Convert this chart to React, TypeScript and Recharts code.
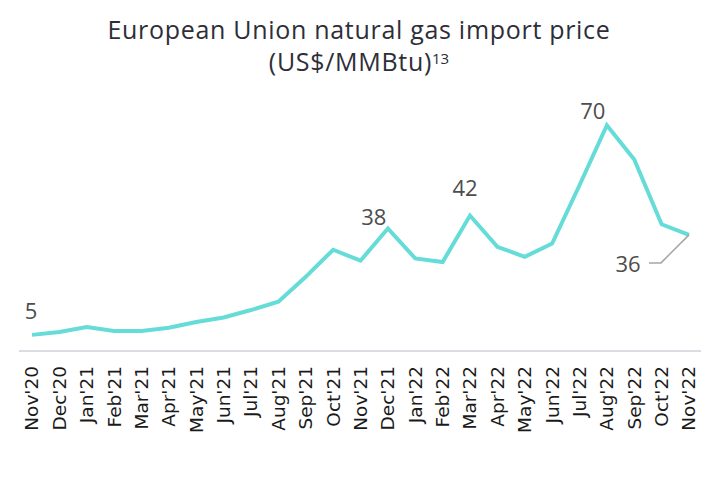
import React from "react"
import { LabelList, Line, LineChart, XAxis, YAxis } from "recharts"

const months = [
  "Nov'20", "Dec'20", "Jan'21", "Feb'21", "Mar'21", "Apr'21", "May'21",
  "Jun'21", "Jul'21", "Aug'21", "Sep'21", "Oct'21", "Nov'21", "Dec'21",
  "Jan'22", "Feb'22", "Mar'22", "Apr'22", "May'22", "Jun'22", "Jul'22",
  "Aug'22", "Sep'22", "Oct'22", "Nov'22",
]

const prices = [
  5, 5.9, 7.4, 6.2, 6.2, 7.2, 9, 10.4, 12.7, 15.3, 23, 31.4, 28, 38,
  28.7, 27.6, 42, 32.3, 29.2, 33.3, 51.4, 70, 59.4, 39.3, 36,
]

// months that carry a value label
const labelled = ["Nov'20", "Dec'21", "Mar'22", "Aug'22", "Nov'22"]

const data = months.map((month, i) => ({ month, price: prices[i] }))

const labelShift: Record<string, [number, number]> = {
  "Nov'20": [-1, -24],
  "Dec'21": [-14, -11],
  "Mar'22": [-5, -27],
  "Aug'22": [-14, -14],
  "Nov'22": [-61, 29],
}

function ValueLabel(props: any) {
  const { x, y, index, value } = props
  const month = months[index]
  if (!labelled.includes(month)) return null
  const [dx, dy] = labelShift[month]
  const lx = x + dx
  const ly = y + dy
  return (
    <g>
      {month === "Nov'22" && (
        <polyline
          points={`${lx + 21},${ly - 1} ${lx + 33},${ly - 1} ${x},${y}`}
          fill="none"
          stroke="#a6a6a6"
          strokeWidth={1.5}
        />
      )}
      <text
        x={lx}
        y={ly}
        dy="0.35em"
        textAnchor="middle"
        fontFamily="'Open Sans', sans-serif"
        fontSize={22}
        fill="#4d4d4d"
      >
        {Math.round(value)}
      </text>
    </g>
  )
}

function MonthTick(props: any) {
  const { x, y, payload } = props
  const ty = y + 7
  return (
    <text
      x={x}
      y={ty}
      dy="0.35em"
      transform={`rotate(-90, ${x}, ${ty})`}
      textAnchor="end"
      fontFamily="'DejaVu Sans', sans-serif"
      fontSize={18.5}
      fill="#1a1a1a"
    >
      {payload.value}
    </text>
  )
}

export default function App() {
  return (
    <div
      style={{
        position: "relative",
        width: 709,
        height: 481,
        margin: -8,
        background: "#fff",
        overflow: "hidden",
      }}
    >
      <div
        style={{
          position: "absolute",
          left: 4,
          top: 2,
          right: 0,
          bottom: 0,
          borderTop: "2px solid #dcdce2",
          borderLeft: "2px solid #dcdce2",
        }}
      />
      <div
        style={{
          position: "absolute",
          left: 0,
          width: 718,
          top: 13,
          textAlign: "center",
          fontFamily: "'Open Sans', sans-serif",
          fontSize: 25,
          fontWeight: 500,
          letterSpacing: 0.7,
          lineHeight: "32px",
          color: "#2e2e38",
        }}
      >
        European Union natural gas import price
        <br />
        (US$/MMBtu)
        <sup style={{ fontSize: 15, verticalAlign: "top", lineHeight: "26px", letterSpacing: 0 }}>13</sup>
      </div>
      <LineChart
        width={709}
        height={481}
        data={data}
        margin={{ top: 93, right: 6, bottom: 10, left: 19 }}
        style={{ position: "absolute", left: 0, top: 0 }}
      >
        <XAxis
          dataKey="month"
          interval={0}
          height={120}
          padding={{ left: 13, right: 14 }}
          tickLine={false}
          axisLine={{ stroke: "#dcdce2", strokeWidth: 2 }}
          tick={<MonthTick />}
        />
        <YAxis hide domain={[0, 80]} />
        <Line
          type="linear"
          dataKey="price"
          stroke="#66dcd8"
          strokeWidth={4}
          dot={false}
          isAnimationActive={false}
        >
          <LabelList dataKey="price" content={<ValueLabel />} />
        </Line>
      </LineChart>
    </div>
  )
}
